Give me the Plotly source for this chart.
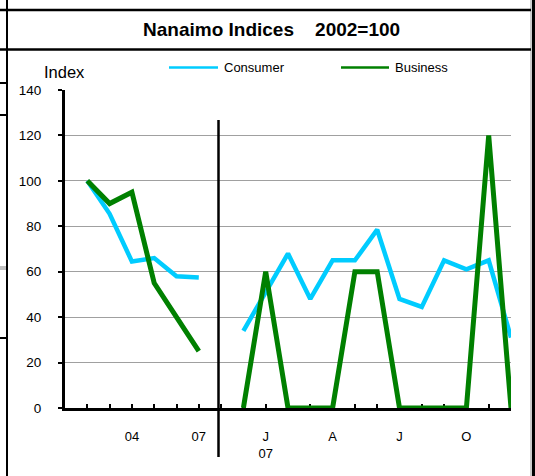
import plotly.graph_objects as go

# ---- data ----
annual_labels = ["2002", "2003", "2004", "2005", "2006", "2007"]
consumer_annual = [100, 85.5, 64.5, 66, 58, 57.5]
business_annual = [100, 90, 95, 55, 40, 25]

month_labels = ["D", "J", "F", "M", "A", "M", "J", "J", "A", "S", "O", "N", "D"]
consumer_monthly = [34, 51, 68, 48, 65, 65, 78.5, 48, 44.5, 65, 61, 65, 31]
business_monthly = [0, 60, 0, 0, 0, 60, 60, 0, 0, 0, 0, 120, 0]

tick_labels = {3: "04", 6: "07", 9: "J<br>07", 12: "A", 15: "J", 18: "O"}

# positions on the category axis (gap between the two periods)
x_annual = list(range(1, 1 + len(annual_labels)))
x_monthly = list(range(8, 8 + len(month_labels)))
xs = x_annual + [7] + x_monthly
consumer = consumer_annual + [None] + consumer_monthly
business = business_annual + [None] + business_monthly

W, H = 535, 476
L, R, T, B = 65, 24, 90, 68
PW, PH = W - L - R, H - T - B


def fx(x):
    return (x - L) / PW


def fy(y):
    return (H - B - y) / PH


FONT = "Liberation Sans, Arial, sans-serif"
CYAN = "#00CCFF"
GREEN = "#008000"

fig = go.Figure()
fig.add_trace(go.Scatter(x=xs, y=consumer, mode="lines", name="Consumer",
                         line=dict(color=CYAN, width=4.5), connectgaps=False))
fig.add_trace(go.Scatter(x=xs, y=business, mode="lines", name="Business",
                         line=dict(color=GREEN, width=5), connectgaps=False))

shapes = []


def seg(x0, y0, x1, y1, color="black", width=2):
    shapes.append(dict(type="line", xref="paper", yref="paper",
                       x0=fx(x0), y0=fy(y0), x1=fx(x1), y1=fy(y1),
                       line=dict(color=color, width=width)))


# frame
seg(7, 0, 7, 476, width=2)
seg(531, 0, 531, 476, color="#9a9a9a", width=1)
seg(533.5, 0, 533.5, 476, width=3)
seg(0, 10, 531, 10, width=2.5)
seg(0, 49.5, 531, 49.5, width=2.5)
for yy in (83, 115, 338):
    seg(0, yy, 7, yy, width=2)
seg(0, 268, 6, 268, color="#c0c0c0", width=4)
# separator between annual and monthly
seg(218.5, 120, 218.5, 457, width=2.5)
# legend lines
seg(169, 67.5, 218, 67.5, color=CYAN, width=2.5)
seg(341, 67.5, 389, 67.5, color=GREEN, width=2.5)

annotations = [
    dict(text="<b>Nanaimo Indices\u00a0\u00a0\u00a0 2002=100</b>", x=fx(271.5), y=fy(29.5),
         xref="paper", yref="paper", showarrow=False, xanchor="center", yanchor="middle",
         font=dict(family=FONT, size=19, color="black")),
    dict(text="Index", x=fx(64), y=fy(72.5), xref="paper", yref="paper", showarrow=False,
         xanchor="center", yanchor="middle", font=dict(family=FONT, size=16.5, color="black")),
    dict(text="Consumer", x=fx(222), y=fy(67.5), xref="paper", yref="paper", showarrow=False,
         xanchor="left", yanchor="middle", font=dict(family=FONT, size=13, color="black")),
    dict(text="Business", x=fx(393), y=fy(67.5), xref="paper", yref="paper", showarrow=False,
         xanchor="left", yanchor="middle", font=dict(family=FONT, size=13, color="black")),
]

tickvals = list(range(0, 21))
ticktext = [tick_labels.get(i, "") for i in tickvals]

fig.update_layout(
    width=W, height=H,
    margin=dict(l=L, r=R, t=T, b=B, pad=0),
    paper_bgcolor="white", plot_bgcolor="white",
    showlegend=False,
    shapes=shapes,
    annotations=annotations,
    font=dict(family=FONT, color="black"),
    xaxis=dict(range=[0, 20], tickmode="array", tickvals=tickvals, ticktext=ticktext,
               showgrid=False, zeroline=False, showline=True, linecolor="black", linewidth=3,
               ticks="inside", ticklen=4, tickwidth=1.5, tickcolor="black",
               tickfont=dict(family=FONT, size=13, color="black"),
               ticklabelstandoff=14, layer="below traces", fixedrange=True),
    yaxis=dict(range=[0, 140], dtick=20, showgrid=True, gridcolor="#a0a0a0", gridwidth=1,
               zeroline=False, showline=True, linecolor="black", linewidth=3,
               ticks="outside", ticklen=4, tickwidth=1.5, tickcolor="black",
               tickfont=dict(family=FONT, size=13.5, color="black"),
               ticklabelstandoff=14, fixedrange=True),
)

fig.write_html("out.html", config={"displayModeBar": False},
               post_script="document.body.style.margin='0';document.body.style.padding='0';")
